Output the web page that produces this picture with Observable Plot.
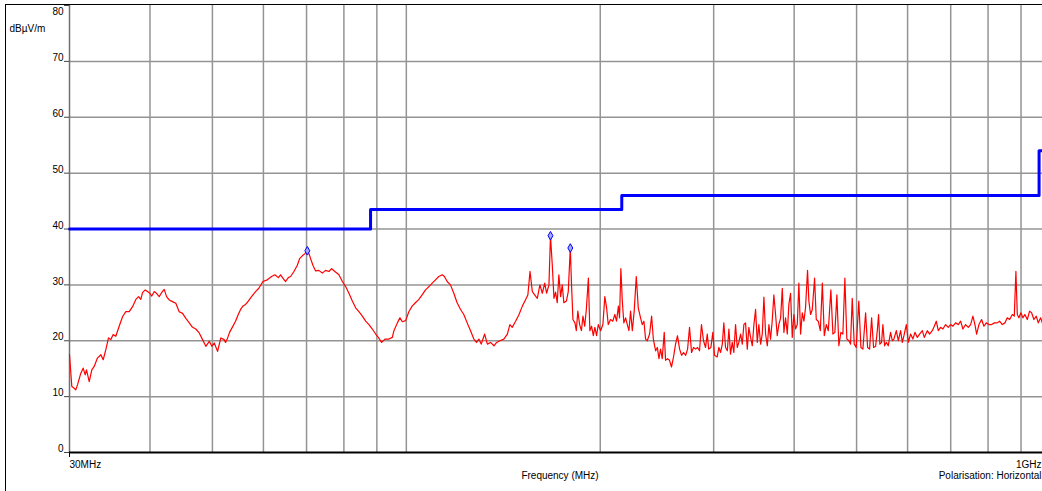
<!DOCTYPE html>
<html><head><meta charset="utf-8">
<script src="https://cdn.jsdelivr.net/npm/d3@7"></script>
<script src="https://cdn.jsdelivr.net/npm/@observablehq/plot@0.6"></script>
<style>
html,body{margin:0;padding:0;background:#fff;overflow:hidden;width:1042px;height:491px;}
#wrap{position:relative;width:1042px;height:491px;overflow:hidden;}
#chart{position:absolute;left:0;top:0;}
#frame{position:absolute;left:5px;top:4px;width:2000px;height:2000px;border-left:1.5px solid #000;border-top:1.5px solid #000;pointer-events:none;}
</style></head><body>
<div id="wrap"><div id="chart"></div><div id="frame"></div></div>
<script>
// Measured emission trace: frequency (MHz) and level (dBµV/m)
const freqs = [
30.0,30.25,30.51,30.68,30.87,31.24,31.50,31.73,31.88,32.19,32.49,32.77,33.15,33.56,33.84,34.16,34.49,34.77,35.07,35.40,
35.83,36.26,36.69,37.14,37.58,38.03,38.40,38.71,38.95,39.32,39.65,39.97,40.26,40.61,40.94,41.34,41.69,42.09,42.44,42.85,
43.35,43.87,44.40,44.94,45.47,46.03,46.57,47.12,47.70,48.27,48.84,49.44,49.90,50.33,50.93,51.53,52.16,
52.40,52.72,53.16,53.68,54.31,54.84,55.30,55.76,56.30,56.84,57.51,58.34,59.03,59.88,60.83,61.78,62.51,63.28,63.80,64.32,
64.95,65.58,66.13,66.91,67.73,68.29,68.95,69.60,70.20,70.60,71.02,71.61,72.31,73.16,74.06,74.94,75.83,76.57,77.47,78.59,
79.56,80.50,81.45,82.45,83.43,84.42,85.45,86.47,87.49,88.56,89.61,90.48,91.56,92.65,93.98,95.12,
95.67,96.84,97.75,98.59,99.76,100.9,102.1,103.3,104.6,105.8,107.1,108.4,109.7,111.0,112.3,113.7,114.6,115.7,117.1,118.5,
119.9,121.4,122.8,124.3,125.8,127.3,128.5,129.6,130.7,132.3,133.6,135.1,136.8,138.1,139.7,141.7,143.5,144.8,146.0,147.8,
149.6,151.4,153.2,154.4,155.6,156.9,158.2,159.7,161.2,162.6,164.0,165.1,166.5,167.4,168.5,169.5,170.5,171.5,172.5,173.6,
174.6,175.6,177.2,178.4,179.7,180.5,181.4,182.7,183.6,184.6,185.8,187.0,188.0,189.2,190.3,191.7,192.7,193.9,195.1,196.2,
197.4,198.6,200.3,201.9,203.3,204.6,205.8,207.5,209.2,210.7,212.0,213.4,214.3,215.3,216.4,217.6,219.0,220.3,221.6,222.9,
224.3,225.8,227.5,229.1,231.0,232.4,233.8,235.2,236.6,238.6,240.3,241.8,243.8,245.3,246.7,248.1,249.6,251.4,252.6,254.4,
256.2,258.0,259.9,261.8,263.6,265.6,267.5,269.4,271.4,273.3,275.2,277.2,279.2,281.2,283.2,285.2,287.2,289.3,291.4,293.2,
294.7,297.0,299.1,300.9,303.8,305.6,307.5,309.4,311.1,313.0,315.0,316.8,318.6,320.6,322.4,324.4,326.4,328.2,330.3,332.3,
334.2,336.2,338.3,340.2,342.3,344.4,346.4,348.5,350.6,352.6,354.8,356.9,359.0,361.2,363.4,365.5,367.6,369.8,372.0,374.3,
376.5,378.7,381.1,383.4,385.6,387.9,390.3,392.5,394.9,397.3,399.6,402.0,404.5,406.8,409.3,411.8,414.2,416.6,419.6,421.6,
424.2,426.8,430.3,432.9,436.0,439.2,442.4,445.5,448.7,451.9,456.1,459.4,462.7,466.0,469.3,472.7,476.1,479.5,482.9,486.4,
489.3,492.3,495.8,499.3,504.0,507.8,511.4,516.4,520.1,523.8,527.6,531.3,535.2,538.4,540.9,543.4,546.7,549.3,552.6,556.0,
559.9,564.6,568.1,571.3,576.3,580.4,585.2,588.8,592.2,597.3,601.6,606.5,611.5,616.0,621.2,626.3,632.4,636.9,643.8,649.1,
655.4,660.1,664.8,669.6,675.1,680.7,687.3,693.9,699.7,705.5,712.3,719.2,725.2,731.2,738.3,745.4,751.6,757.8,763.3,767.9,
774.3,781.7,788.2,794.9,802.4,810.2,818.0,826.8,833.6,841.7,849.6,856.9,864.0,872.4,878.6,883.7,888.1,893.2,899.6,906.0,
912.5,920.4,928.0,934.7,942.4,950.4,957.2,965.3,971.1
];
const levels = [
17.5,11.8,11.5,11.2,12.1,14.2,15.1,13.9,14.8,12.7,14.8,15.4,16.9,17.5,16.6,18.4,20.5,20.2,21.1,20.8,
22.6,24.3,25.2,25.2,26.1,27.4,27.9,27.4,28.6,29.1,28.8,28.5,28.0,28.8,28.5,27.9,28.6,29.2,27.9,27.3,
27.0,26.7,25.2,24.9,24.0,23.2,22.4,22.1,21.4,20.2,19.0,19.9,19.0,19.6,18.1,20.5,20.2,
19.7,20.3,21.5,22.4,23.5,24.7,25.6,26.2,26.5,27.1,27.9,28.8,29.4,30.6,30.9,31.5,31.8,31.3,31.8,31.2,
30.6,31.3,31.5,32.4,33.5,34.7,35.2,35.6,36.2,35.6,34.7,33.5,32.5,32.6,32.1,32.6,32.4,32.9,32.4,31.8,
30.6,29.7,28.5,27.1,25.9,25.2,24.4,23.5,22.9,22.1,21.2,20.6,19.7,20.3,20.3,20.6,
21.8,23.2,24.1,23.4,23.6,25.2,26.2,26.8,27.4,28.2,29.1,29.7,30.3,30.9,31.5,31.8,31.5,30.6,30.0,28.5,
26.8,25.6,24.7,23.2,21.8,20.3,19.7,20.3,19.4,21.2,19.4,19.7,19.1,19.7,20.0,20.3,21.2,22.9,22.4,23.5,
24.7,26.2,27.4,28.2,32.4,28.8,28.2,27.6,30.0,28.5,30.3,28.5,30.0,38.8,33.5,27.6,28.7,26.8,31.8,27.9,
30.0,26.8,27.1,28.8,36.6,30.0,23.8,23.2,21.8,25.3,22.9,21.8,24.4,22.6,25.6,31.2,21.8,22.6,20.9,22.4,
20.9,22.9,21.8,22.9,27.9,25.9,22.9,23.8,23.5,24.7,23.5,26.2,24.1,32.9,27.1,23.2,24.1,22.9,21.8,25.3,
21.8,25.3,31.5,25.9,24.1,22.9,23.5,20.3,20.0,21.2,24.4,20.3,18.2,18.8,16.8,18.5,16.8,21.5,16.5,16.8,
16.5,15.3,17.1,19.4,20.9,18.5,17.4,17.9,17.4,18.5,22.4,17.9,18.8,18.5,18.8,18.2,22.9,20.0,18.8,21.2,
18.5,18.8,21.5,17.4,17.1,18.8,17.9,19.4,23.2,18.8,18.2,22.1,17.6,19.7,17.9,22.9,18.8,19.7,21.2,19.4,
22.9,23.2,18.5,22.4,20.6,19.1,22.9,25.6,19.7,22.9,19.4,21.2,27.8,21.2,19.1,22.9,20.3,23.5,28.2,24.7,
20.9,22.9,24.1,29.4,21.5,24.1,21.2,26.5,28.5,20.6,24.7,22.1,22.9,30.3,21.2,25.0,23.5,25.9,32.6,27.1,
24.7,25.6,31.2,23.8,23.5,21.8,30.3,20.9,22.9,21.8,29.1,21.2,21.5,28.2,19.1,21.5,21.2,31.2,20.3,20.0,
19.4,27.6,19.4,18.8,27.1,18.8,18.5,25.0,18.8,18.5,24.1,18.8,19.0,21.8,24.7,19.4,19.7,22.9,19.1,19.7,
19.1,21.5,20.0,20.3,21.8,20.0,21.8,19.7,20.9,22.9,19.7,21.2,20.3,21.5,20.6,21.2,21.8,20.6,21.8,21.2,
21.8,22.6,23.5,21.8,22.4,22.1,22.9,22.4,22.9,22.6,23.2,22.9,23.5,22.1,22.9,22.4,22.9,24.4,22.9,21.2,
22.9,23.8,22.6,23.2,22.9,22.9,23.2,23.2,23.5,22.9,23.2,24.1,23.8,24.7,24.4,32.4,24.7,24.1,25.0,24.1,
24.7,23.8,25.3,25.0,23.8,24.4,23.2,24.1,23.2
];
// Limit line (step after each frequency)
const limitFreqs = [30, 88, 216, 960, 1000];
const limitLevels = [40, 43.5, 46, 54, 54];
// Marked peaks
const peakFreqs = [70.2, 167.4, 179.7];
const peakLevels = [36.1, 38.8, 36.6];
// Axes
const yTicks = [0, 10, 20, 30, 40, 50, 60, 70, 80];
const yGrid = [10, 20, 30, 40, 50, 60, 70];
const xGrid = [40, 50, 60, 70, 80, 90, 100, 200, 300, 400, 500, 600, 700, 800, 900];
const xLabelFreqs = [30, 1000];
const xLabelTexts = ["30MHz", "1GHz"];

const trace = freqs.map((f, i) => ({f, v: levels[i]}));
const limit = limitFreqs.map((f, i) => ({f, v: limitLevels[i]}));
const peaks = peakFreqs.map((f, i) => ({f, v: peakLevels[i]}));
const xLabels = xLabelFreqs.map((f, i) => ({f, t: xLabelTexts[i]}));

const chart = Plot.plot({
  width: 1050, height: 491,
  marginLeft: 69, marginRight: 0, marginTop: 5, marginBottom: 39,
  style: {fontFamily: "'Liberation Sans', Arial, sans-serif", fontSize: "10px", color: "#000", background: "#fff", maxWidth: "none"},
  x: {type: "log", domain: [30, 1000], axis: null, label: null},
  y: {domain: [0, 80], axis: null, label: null},
  marks: [
    Plot.gridX(xGrid, {stroke: "#949494", strokeOpacity: 1, strokeWidth: 1.5}),
    Plot.gridY(yGrid, {stroke: "#949494", strokeOpacity: 1, strokeWidth: 1.5}),
    Plot.ruleX([30], {stroke: "#707070", strokeWidth: 1.5}),
    Plot.line(limit, {x: "f", y: "v", curve: "step-after", stroke: "#0000ff", strokeWidth: 3}),
    Plot.line(trace, {x: "f", y: "v", stroke: "#ff0000", strokeWidth: 1.2}),
    Plot.dot(peaks, {x: "f", y: "v", symbol: "diamond", r: 2.6, stroke: "#0000ff", fill: "#a8a8ff", strokeWidth: 1}),
    Plot.ruleY([0], {stroke: "#000", strokeWidth: 2}),
    Plot.axisY({ticks: yTicks, tickSize: 5, tickFormat: () => "", stroke: "#444", label: null}),
    Plot.axisX({ticks: [30], tickSize: 5, tickFormat: () => "", stroke: "#000", label: null}),
    Plot.text(yTicks.filter(d => d < 80), {x: 30, y: d => d, text: d => String(d), textAnchor: "end", dx: -6, dy: -3.5, fill: "#000"}),
    Plot.text(yTicks.filter(d => d === 80), {x: 30, y: d => d, text: d => String(d), textAnchor: "end", dx: -6, dy: 6.5, fill: "#000"}),
    Plot.text(xLabels.slice(0, 1), {x: "f", y: 0, text: "t", textAnchor: "start", dy: 12.5, fill: "#000"}),
    Plot.text(xLabels.slice(1), {x: "f", y: 0, text: "t", textAnchor: "end", dx: -9, dy: 12.5, fill: "#000"}),
    Plot.text(["dBµV/m"], {frameAnchor: "top-left", text: d => d, textAnchor: "start", dx: -60, dy: 19.5, fill: "#000"}),
    Plot.text(["Frequency (MHz)"], {frameAnchor: "bottom", text: d => d, dy: 26, fill: "#000"}),
    Plot.text(["Polarisation: Horizontal"], {frameAnchor: "bottom-right", text: d => d, textAnchor: "end", dx: -9, dy: 26, fill: "#000"})
  ]
});
document.getElementById("chart").appendChild(chart);
</script>
</body></html>
